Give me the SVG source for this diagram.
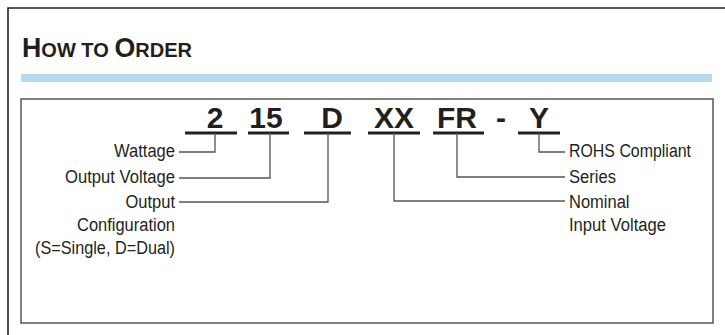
<svg xmlns="http://www.w3.org/2000/svg" width="725" height="335" viewBox="0 0 725 335">
<style>
.lbl{font-family:"Liberation Sans",Arial,sans-serif;font-size:18px;fill:#231f20}
.code{font-family:"Liberation Sans",Arial,sans-serif;font-size:30px;font-weight:bold;fill:#231f20;text-anchor:middle}
.ul{stroke:#231f20;stroke-width:3;fill:none}
.conn{stroke:#555;stroke-width:1.3;fill:none}
</style>
<rect x="0" y="0" width="725" height="335" fill="#fff"/>
<g id="frame">
<path d="M8,335 V8 H725" fill="none" stroke="#222" stroke-width="1.6"/>
<rect x="21" y="74" width="691" height="8" fill="#b5d9ee"/>
<rect x="21" y="99" width="692" height="224" fill="none" stroke="#555" stroke-width="1.5"/>
</g>
<g id="title">
<text transform="translate(22,57) scale(0.955,1)" x="0" y="0" style="font-family:'Liberation Sans',Arial,sans-serif;font-weight:bold;fill:#231f20"><tspan font-size="28">H</tspan><tspan font-size="21">OW TO </tspan><tspan font-size="28">O</tspan><tspan font-size="21">RDER</tspan></text>
</g>
<g id="code">
<text class="code" x="215" y="128">2</text>
<text class="code" x="266" y="128">15</text>
<text class="code" x="332" y="128">D</text>
<text class="code" x="394" y="128">XX</text>
<text class="code" x="457" y="128">FR</text>
<text class="code" x="501" y="128">-</text>
<text class="code" x="539" y="128">Y</text>
<path class="ul" d="M185,133H237 M248,133H289 M304,133H351 M368,133H420 M433,133H484 M518,133H560"/>
</g>
<g id="connectors">
<path class="conn" d="M215,133V152H179"/>
<path class="conn" d="M270,133V178H179"/>
<path class="conn" d="M328,133V202H179"/>
<path class="conn" d="M394,133V201H565"/>
<path class="conn" d="M457,133V177H565"/>
<path class="conn" d="M539,133V152H565"/>
</g>
<g id="wattage"><text class="lbl" x="175" y="157" text-anchor="end" textLength="61" lengthAdjust="spacingAndGlyphs">Wattage</text></g>
<g id="output-voltage"><text class="lbl" x="175" y="183" text-anchor="end" textLength="110" lengthAdjust="spacingAndGlyphs">Output Voltage</text></g>
<g id="output-config">
<text class="lbl" x="175" y="208" text-anchor="end" textLength="49.5" lengthAdjust="spacingAndGlyphs">Output</text>
<text class="lbl" x="175" y="231" text-anchor="end" textLength="98" lengthAdjust="spacingAndGlyphs">Configuration</text>
<text class="lbl" x="175" y="254" text-anchor="end" textLength="140" lengthAdjust="spacingAndGlyphs">(S=Single, D=Dual)</text>
</g>
<g id="rohs"><text class="lbl" x="569" y="157" textLength="122" lengthAdjust="spacingAndGlyphs">ROHS Compliant</text></g>
<g id="series"><text class="lbl" x="569" y="183" textLength="47" lengthAdjust="spacingAndGlyphs">Series</text></g>
<g id="nominal">
<text class="lbl" x="569" y="208" textLength="60.5" lengthAdjust="spacingAndGlyphs">Nominal</text>
<text class="lbl" x="569" y="231" textLength="97" lengthAdjust="spacingAndGlyphs">Input Voltage</text>
</g>
</svg>
